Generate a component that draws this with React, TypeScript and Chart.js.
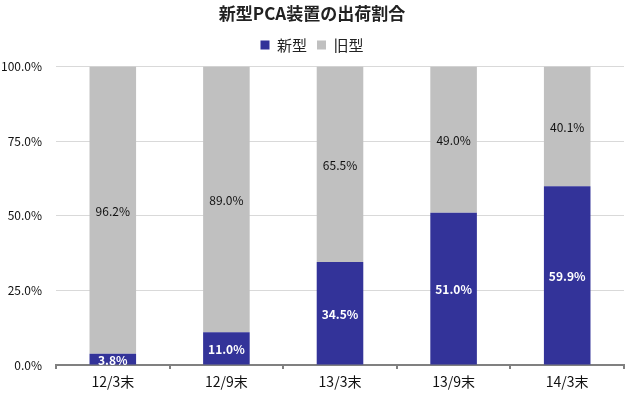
import React, { useEffect, useRef } from "react";
import { Chart, registerables } from "chart.js";

Chart.register(...registerables);

const categories = ["12/3末", "12/9末", "13/3末", "13/9末", "14/3末"];
const newType = [3.8, 11.0, 34.5, 51.0, 59.9];
const oldType = [96.2, 89.0, 65.5, 49.0, 40.1];
const seriesNames = ["新型", "旧型"];
const titleText = "新型PCA装置の出荷割合";

const FONT = "'Noto Sans CJK JP', 'Noto Sans', sans-serif";

const labelPlugin = {
  id: "barLabels",
  afterDatasetsDraw(chart: any) {
    const ctx = chart.ctx;
    chart.data.datasets.forEach((ds: any, di: number) => {
      const meta = chart.getDatasetMeta(di);
      meta.data.forEach((el: any, i: number) => {
        const p = el.getProps(["x", "y", "base"], true);
        const v = ds.data[i];
        const cy = (p.y + p.base) / 2;
        ctx.save();
        ctx.textAlign = "center";
        ctx.textBaseline = "middle";
        if (di === 0) {
          ctx.fillStyle = "#ffffff";
          ctx.font = `bold 12px ${FONT}`;
        } else {
          ctx.fillStyle = "#111111";
          ctx.font = `12px ${FONT}`;
        }
        ctx.fillText(v.toFixed(1) + "%", p.x, cy + 1);
        ctx.restore();
      });
    });
  },
};

export default function App() {
  const ref = useRef<HTMLCanvasElement>(null);
  useEffect(() => {
    const chart = new Chart(ref.current!, {
      type: "bar",
      data: {
        labels: categories,
        datasets: [
          { label: seriesNames[0], data: newType, backgroundColor: "#333399", barPercentage: 0.82, categoryPercentage: 0.5 },
          { label: seriesNames[1], data: oldType, backgroundColor: "#c0c0c0", barPercentage: 0.82, categoryPercentage: 0.5 },
        ],
      },
      options: {
        animation: false,
        responsive: false,
        layout: { padding: { left: 0, right: 5, top: 0, bottom: 0 } },
        plugins: {
          title: {
            display: true,
            text: titleText,
            color: "#222",
            font: { family: FONT, size: 17, weight: "bold" },
            padding: { top: 3, bottom: 4 },
          },
          subtitle: {
            display: true,
            text: " ",
            weight: 500,
            font: { size: 3.4 },
            padding: 0,
          } as any,
          legend: {
            display: true,
            labels: {
              boxWidth: 9,
              boxHeight: 9,
              color: "#222",
              font: { family: FONT, size: 15 },
              padding: 10,
            },
          },
          tooltip: { enabled: false },
        },
        scales: {
          x: {
            stacked: true,
            afterFit: (s: any) => { s.height = 32; },
            grid: { drawOnChartArea: false, drawTicks: true, tickLength: 4, color: "#808080", lineWidth: 2 },
            border: { display: true, color: "#808080", width: 2 },
            ticks: { color: "#111", font: { family: FONT, size: 14 }, padding: 4 },
          },
          y: {
            stacked: true,
            min: 0,
            max: 100,
            afterFit: (s: any) => { s.width = 56; },
            grid: { color: "#d9d9d9", drawTicks: false },
            border: { display: false },
            ticks: {
              stepSize: 25,
              color: "#111",
              font: { family: FONT, size: 12 },
              padding: 14,
              callback: (v: any) => Number(v).toFixed(1) + "%",
            },
          },
        },
      },
      plugins: [labelPlugin],
    });
    return () => chart.destroy();
  }, []);
  return (
    <div style={{ position: "fixed", left: 0, top: 0, width: 629, height: 397, background: "#fff" }}>
      <canvas ref={ref} width={629} height={397} />
    </div>
  );
}
